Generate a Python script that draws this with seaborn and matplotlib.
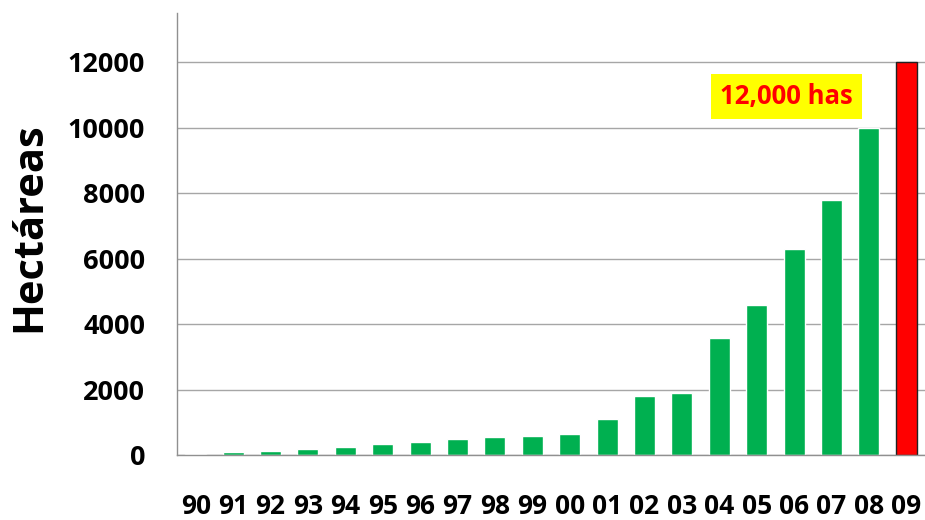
import matplotlib
matplotlib.use("Agg")
import matplotlib.pyplot as plt
import seaborn as sns
import pandas as pd

# Data
years = ["90", "91", "92", "93", "94", "95", "96", "97", "98", "99",
         "00", "01", "02", "03", "04", "05", "06", "07", "08", "09"]
hectares = [45, 100, 130, 195, 255, 345, 405, 500, 560, 590,
            650, 1110, 1810, 1900, 3580, 4590, 6300, 7800, 10000, 12000]
group = ["prev"] * 19 + ["actual"]
note = "12,000 has"

df = pd.DataFrame({"year": years, "ha": hectares, "group": group})

sns.set_style("white")
plt.rcParams["font.family"] = ["Open Sans", "DejaVu Sans"]
plt.rcParams["text.color"] = "black"
plt.rcParams["xtick.color"] = "black"
plt.rcParams["ytick.color"] = "black"
plt.rcParams["axes.labelcolor"] = "black"

fig = plt.figure(figsize=(9.25, 5.2), dpi=100)
ax = fig.add_axes([0.1914, 0.125, 0.8086, 0.85])

sns.barplot(data=df, x="year", y="ha", hue="group",
            palette={"prev": "#00B050", "actual": "#FF0000"},
            dodge=False, width=0.56, legend=False, saturation=1, ax=ax)

# outline on the highlighted bar
for p in ax.patches:
    if p.get_height() == max(hectares):
        p.set_edgecolor("#222222")
        p.set_linewidth(1.0)

ax.set_xlim(-0.5, 19.5)
ax.set_ylim(0, 13500)
ax.set_yticks(range(0, 12001, 2000))
ax.yaxis.grid(True, color="#A6A6A6", linewidth=1.0)
ax.set_axisbelow(True)

for s in ["top", "right"]:
    ax.spines[s].set_visible(False)
for s in ["left", "bottom"]:
    ax.spines[s].set_color("#909090")
    ax.spines[s].set_linewidth(1.0)

ax.tick_params(axis="y", length=10, width=1, color="#909090", pad=13,
               labelsize=19.5, labelcolor="black")
ax.tick_params(axis="x", length=0, pad=27, labelsize=19, labelcolor="black")
for lab in ax.get_xticklabels() + ax.get_yticklabels():
    lab.set_fontweight("bold")

ax.set_xlabel("")
ax.set_ylabel("Hectáreas", fontsize=30, fontweight="bold", color="black")
ax.yaxis.set_label_coords(-0.17, 0.515)

ax.text(15.79, 10940, note, color="#FF0000", fontsize=18.5, fontweight="bold",
        ha="center", va="center",
        bbox=dict(boxstyle="square,pad=0.35", facecolor="#FFFF00",
                  edgecolor="none"))

fig.savefig("out.png", dpi=100)
